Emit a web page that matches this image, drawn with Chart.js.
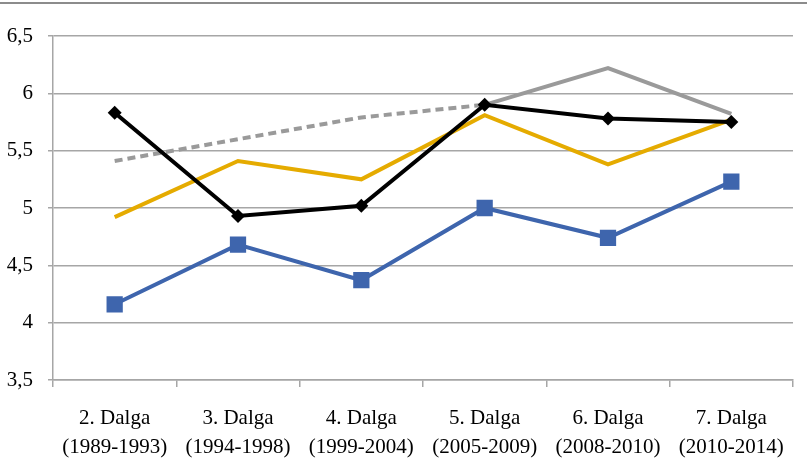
<!DOCTYPE html>
<html>
<head>
<meta charset="utf-8">
<script src="https://cdn.jsdelivr.net/npm/chart.js@4"></script>
<style>
  html, body { margin: 0; padding: 0; background: #fff; }
  #wrap { width: 807px; height: 463px; position: relative; }
</style>
</head>
<body>
<div id="wrap"><canvas id="chart-dalga"></canvas></div>
<script>
const dalgaLabels = [
    ['2. Dalga', '(1989-1993)'],
    ['3. Dalga', '(1994-1998)'],
    ['4. Dalga', '(1999-2004)'],
    ['5. Dalga', '(2005-2009)'],
    ['6. Dalga', '(2008-2010)'],
    ['7. Dalga', '(2010-2014)'],
];

const blueValues = [4.16, 4.68, 4.37, 5.0, 4.74, 5.23];
const yellowValues = [4.92, 5.41, 5.25, 5.81, 5.38, 5.77];
const blackValues = [5.83, 4.93, 5.02, 5.90, 5.78, 5.75];
const grayValues = [5.41, 5.60, 5.79, 5.90, 6.22, 5.82];

const yMin = 3.5;
const yMax = 6.5;
const yStep = 0.5;

const chartContext = document.getElementById('chart-dalga');

// gray frame line along the top of the picture
const topLinePlugin = {
    id: 'topLine',
    beforeDraw(chart) {
        const ctx = chart.ctx;
        ctx.save();
        ctx.strokeStyle = '#8c8c8c';
        ctx.lineWidth = 2;
        ctx.beginPath();
        ctx.moveTo(0, 3);
        ctx.lineTo(chart.width, 3);
        ctx.stroke();
        ctx.restore();
    }
};

var chartData = {
    labels: dalgaLabels,
    datasets: [
        {
            label: 'Gri',
            data: grayValues,
            borderColor: '#9a9a9a',
            borderWidth: 4,
            pointRadius: 0,
            segment: {
                borderDash: ctx => ctx.p0DataIndex < 3 ? [8, 5] : undefined
            },
            order: 4
        },
        {
            label: 'Sarı',
            data: yellowValues,
            borderColor: '#e5ab00',
            borderWidth: 4,
            pointRadius: 0,
            order: 3
        },
        {
            label: 'Siyah',
            data: blackValues,
            borderColor: '#000000',
            backgroundColor: '#000000',
            borderWidth: 4,
            pointStyle: 'rectRot',
            pointRadius: 7,
            pointBorderWidth: 0,
            order: 1
        },
        {
            label: 'Mavi',
            data: blueValues,
            borderColor: '#3e65ad',
            backgroundColor: '#3e65ad',
            borderWidth: 4,
            pointStyle: 'rect',
            pointRadius: 11.5,
            pointBorderWidth: 0,
            order: 2
        }
    ]
};

const configChart = {
    type: 'line',
    data: chartData,
    plugins: [topLinePlugin],
    options: {
        responsive: true,
        maintainAspectRatio: false,
        animation: false,
        layout: {
            padding: { top: 36, right: 14, left: 0, bottom: 0 }
        },
        plugins: {
            legend: { display: false },
            tooltip: { enabled: false }
        },
        elements: {
            line: { tension: 0, borderCapStyle: 'butt', borderJoinStyle: 'miter' }
        },
        scales: {
            x: {
                offset: true,
                grid: {
                    offset: true,
                    drawOnChartArea: false,
                    drawTicks: true,
                    tickLength: 7,
                    color: '#a6a6a6',
                    lineWidth: 1.5
                },
                border: { color: '#a6a6a6', width: 1.5 },
                ticks: {
                    color: '#000',
                    padding: 17,
                    maxRotation: 0,
                    autoSkip: false,
                    font: { family: 'Liberation Serif', size: 21, lineHeight: 1.38 }
                },
                afterFit(scale) { scale.height = 83; }
            },
            y: {
                min: yMin,
                max: yMax,
                grid: {
                    color: '#a6a6a6',
                    lineWidth: 1.5,
                    tickLength: 5
                },
                border: { color: '#a6a6a6', width: 1.5 },
                ticks: {
                    stepSize: yStep,
                    color: '#000',
                    padding: 15,
                    font: { family: 'Liberation Serif', size: 21 },
                    callback: v => String(v).replace('.', ',')
                },
                afterFit(scale) { scale.width = 53; }
            }
        }
    }
};

var chartDalga = new Chart(chartContext, configChart);
</script>
</body>
</html>
